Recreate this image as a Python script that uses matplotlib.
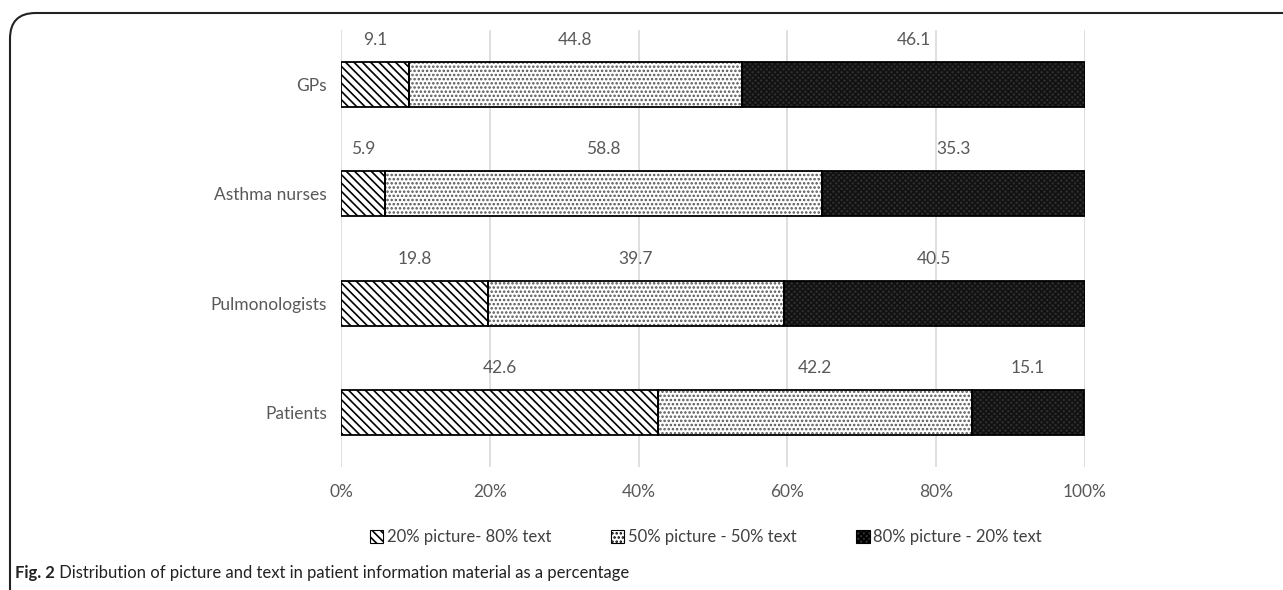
import matplotlib
matplotlib.use("Agg")
import matplotlib.pyplot as plt
import numpy as np
from matplotlib.patches import FancyBboxPatch, Patch

categories = ["Patients", "Pulmonologists", "Asthma nurses", "GPs"]
s20 = [42.6, 19.8, 5.9, 9.1]
s50 = [42.2, 39.7, 58.8, 44.8]
s80 = [15.1, 40.5, 35.3, 46.1]
series_names = ["20% picture- 80% text", "50% picture - 50% text", "80% picture - 20% text"]
xticks = [0, 20, 40, 60, 80, 100]
xticklabels = ["0%", "20%", "40%", "60%", "80%", "100%"]
caption_bold = "Fig. 2"
caption_text = " Distribution of picture and text in patient information material as a percentage"

plt.rcParams['font.family'] = ['Lato', 'DejaVu Sans']
plt.rcParams['hatch.linewidth'] = 1.2

fig = plt.figure(figsize=(12.83, 5.90), dpi=100)
ax = fig.add_axes([341/1283, 1-467/590, (1085-341)/1283, (467-30)/590])

y = np.arange(len(categories))
h = 0.41
series = [np.array(s20), np.array(s50), np.array(s80)]
styles = [
    dict(face="white", hatch="\\\\\\\\", hcol="black"),
    dict(face="white", hatch="....", hcol="#555555"),
    dict(face="#2e2e2e", hatch="xxxxxx", hcol="#111111"),
]
left = np.zeros(len(categories))
for vals, st in zip(series, styles):
    ax.barh(y, vals, left=left, height=h, color=st["face"], hatch=st["hatch"],
            edgecolor=st["hcol"], linewidth=0, zorder=2)
    ax.barh(y, vals, left=left, height=h, fill=False, edgecolor="black",
            linewidth=1.3, zorder=3)
    for yi, l, v in zip(y, left, vals):
        ax.text(l + v / 2, yi + h / 2 + 0.13, f"{v:.1f}", ha="center", va="bottom",
                fontsize=12.5, color="#595959")
    left = left + vals

ax.set_xlim(0, 100)
ax.set_ylim(-0.5, 3.5)
ax.set_yticks(y)
ax.set_yticklabels(categories, fontsize=12.5, color="#595959")
ax.set_xticks(xticks)
ax.set_xticklabels(xticklabels, fontsize=12.5, color="#595959")
ax.tick_params(length=0, pad=10)
ax.tick_params(axis='x', pad=12)
ax.xaxis.grid(True, color="#d9d9d9", linewidth=1.2, zorder=0)
ax.set_axisbelow(True)
for sp in ax.spines.values():
    sp.set_visible(False)

handles = [Patch(facecolor=st["face"], hatch=st["hatch"], edgecolor="black", linewidth=0.8)
           for st in styles]
leg = fig.legend(handles, series_names, loc="center", bbox_to_anchor=(0.55, 1-537/590),
                 ncol=3, frameon=False, fontsize=12, handlelength=0.8, handleheight=0.8,
                 handletextpad=0.2, columnspacing=3.6)
for t in leg.get_texts():
    t.set_color("#404040")

frame = FancyBboxPatch((10/1283, -0.1), 1.2, 1-13/590 + 0.1,
                       boxstyle="round,pad=0,rounding_size=0.02",
                       transform=fig.transFigure, fill=False, edgecolor="#222222",
                       linewidth=1.5, clip_on=False, mutation_aspect=1283/590)
fig.patches.append(frame)

t1 = fig.text(15/1283, 1-573/590, caption_bold, fontsize=12, fontweight="bold",
              va="center", ha="left", color="#222222")
renderer = fig.canvas.get_renderer()
bb = t1.get_window_extent(renderer=renderer)
fig.text(bb.x1 / fig.bbox.width, 1-573/590, caption_text, fontsize=12,
         va="center", ha="left", color="#222222")

fig.savefig("out.png", dpi=100)
